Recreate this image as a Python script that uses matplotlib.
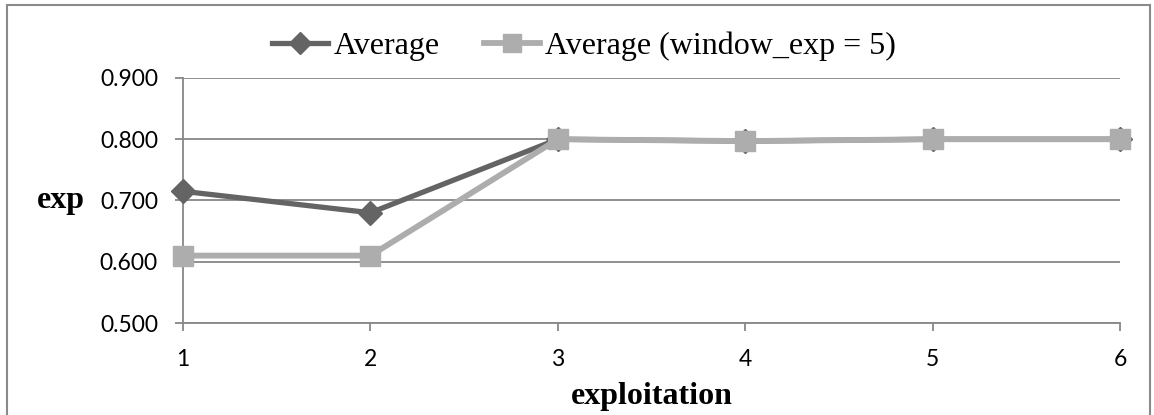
import matplotlib.pyplot as plt
from matplotlib.patches import Rectangle

# data
exploitation = [1, 2, 3, 4, 5, 6]
average = [0.715, 0.680, 0.800, 0.797, 0.800, 0.800]
average_window = [0.610, 0.610, 0.800, 0.797, 0.800, 0.800]
y_ticks = [0.5, 0.6, 0.7, 0.8, 0.9]

DARK = "#646464"
LIGHT = "#adadad"
GRID = "#878787"

fig = plt.figure(figsize=(11.54, 4.15), dpi=100)
ax = fig.add_axes([183 / 1154, 1 - 323 / 415, (1120 - 183) / 1154, (323 - 78) / 415])

ax.plot(exploitation, average, color=DARK, lw=3.8, marker="D", ms=12,
        label="Average", zorder=3, clip_on=False)
ax.plot(exploitation, average_window, color=LIGHT, lw=4.2, marker="s", ms=14.5,
        label="Average (window_exp = 5)", zorder=4, clip_on=False)

ax.set_xlim(1, 6)
ax.set_ylim(0.5, 0.9)
ax.set_xticks(exploitation)
ax.set_yticks(y_ticks)
ax.set_yticklabels([f"{v:.3f}" for v in y_ticks])
ax.yaxis.grid(True, color=GRID, lw=1.3)
ax.set_axisbelow(True)

for s in ["top", "right"]:
    ax.spines[s].set_visible(False)
for s in ["left", "bottom"]:
    ax.spines[s].set_color(GRID)
    ax.spines[s].set_linewidth(1.3)
ax.tick_params(axis="both", color=GRID, width=1.3, length=6, direction="out",
               labelsize=16.5)
ax.tick_params(axis="y", pad=12)
ax.tick_params(axis="x", pad=13)
for lab in ax.get_xticklabels() + ax.get_yticklabels():
    lab.set_family("Lato")

ax.set_xlabel("exploitation", family="Liberation Serif", fontweight="bold",
              fontsize=23, va="center")
ax.xaxis.set_label_coords(0.5005, -0.302)
ax.set_ylabel("exp", family="Liberation Serif", fontweight="bold",
              fontsize=23, rotation=0, va="center", ha="center")
ax.yaxis.set_label_coords(-0.130, 0.50)

ax.legend(loc="center", bbox_to_anchor=(584 / 1154, 1 - 46 / 415), bbox_transform=fig.transFigure,
          ncol=2, frameon=False, handlelength=1.75, handletextpad=0.16,
          columnspacing=1.38, borderpad=0, markerscale=0.9,
          prop={"family": "Liberation Serif", "size": 23})

fig.patches.append(Rectangle((7 / 1154, -0.05), (1150 - 7) / 1154, 1 - 5 / 415 + 0.05,
                             transform=fig.transFigure, fill=False,
                             edgecolor="#8a8a8a", lw=1.5))

fig.savefig("out.png", dpi=100)
